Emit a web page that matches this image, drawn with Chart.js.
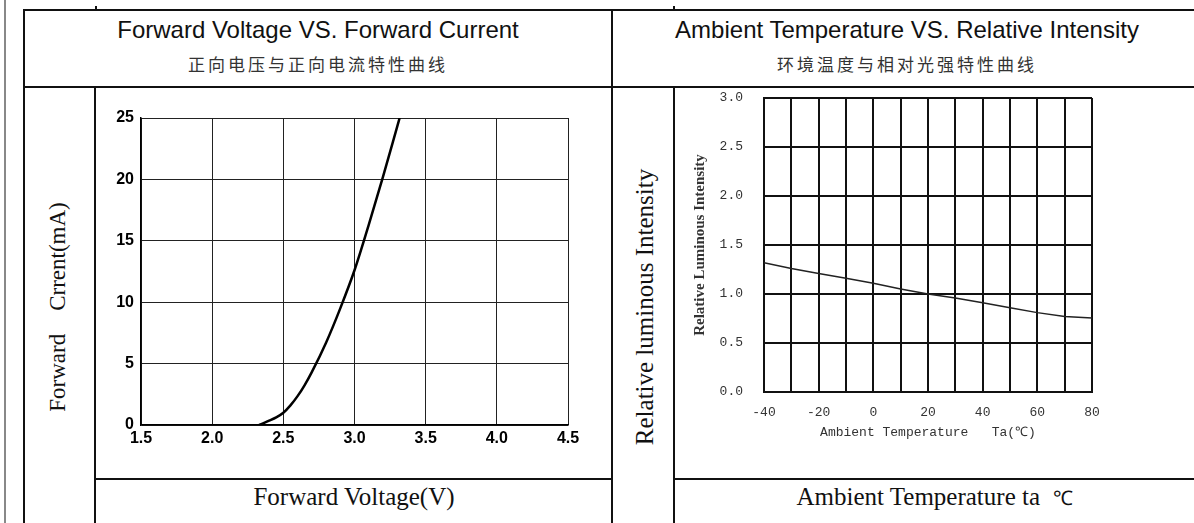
<!DOCTYPE html>
<html>
<head>
<meta charset="utf-8">
<script src="https://cdn.jsdelivr.net/npm/chart.js@4/dist/chart.umd.min.js"></script>
<style>
  body { margin: 0; background: #fff; }
  #page { position: relative; width: 1194px; height: 523px; overflow: hidden; background: #fff; }
  .ln { position: absolute; background: #111; }
  .txt { position: absolute; white-space: pre; text-align: center; color: #111; line-height: 1.15; }
  .title { font-family: "Liberation Sans", Arial, sans-serif; font-size: 24px; }
  .sub { font-family: "Noto Sans CJK SC", sans-serif; font-size: 17px; letter-spacing: 3px; color: #333; }
  .serif { font-family: "Liberation Serif", "Times New Roman", serif; }
  .rot { transform: translate(-50%, -50%) rotate(-90deg); }
  .box { position: absolute; }
</style>
</head>
<body>
<div id="page">
  <!-- table lines -->
  <div class="ln" style="left:4px;top:0;width:2px;height:523px;background:#888"></div>
  <div class="ln" style="left:23px;top:9px;width:2px;height:514px"></div>
  <div class="ln" style="left:23px;top:9px;width:1171px;height:2px"></div>
  <div class="ln" style="left:95px;top:6px;width:2px;height:4px"></div>
  <div class="ln" style="left:673px;top:6px;width:2px;height:4px"></div>
  <div class="ln" style="left:23px;top:86px;width:1171px;height:2px"></div>
  <div class="ln" style="left:611px;top:9px;width:2px;height:514px"></div>
  <div class="ln" style="left:94px;top:86px;width:2px;height:437px"></div>
  <div class="ln" style="left:673px;top:86px;width:2px;height:437px"></div>
  <div class="ln" style="left:94px;top:478px;width:519px;height:2px"></div>
  <div class="ln" style="left:673px;top:478px;width:521px;height:2px"></div>

  <!-- headings -->
  <div class="txt title" style="left:24px;width:588px;top:16px">Forward Voltage VS. Forward Current</div>
  <div class="txt sub" style="left:24px;width:588px;top:54px">正向电压与正向电流特性曲线</div>
  <div class="txt title" style="left:613px;width:588px;top:16px">Ambient Temperature VS. Relative Intensity</div>
  <div class="txt sub" style="left:613px;width:588px;top:54px">环境温度与相对光强特性曲线</div>

  <div class="txt serif rot" style="left:58px;top:307px;font-size:23px">Forward    Crrent(mA)</div>
  <div class="txt serif rot" style="left:645px;top:307px;font-size:25px">Relative luminous Intensity</div>
  <div class="txt serif" style="left:96px;width:516px;top:483px;font-size:25px">Forward Voltage(V)</div>
  <div class="txt serif" style="left:675px;width:519px;top:483px;font-size:25px;height:30px">Ambient Temperature ta  <span style="font-size:20px">℃</span></div>

  <div class="box" style="left:96px;top:88px;width:516px;height:390px"><canvas id="fvChart"></canvas></div>
  <div class="box" style="left:675px;top:88px;width:519px;height:390px"><canvas id="taChart"></canvas></div>
</div>
<script>
// forward voltage (V) vs forward current (mA)
const fvVolts = [2.33, 2.4, 2.45, 2.5, 2.55, 2.6, 2.65, 2.7, 2.8, 2.9, 3.0, 3.1, 3.2, 3.3, 3.317];
const fvCurrent = [0, 0.35, 0.62, 1.0, 1.6, 2.35, 3.25, 4.3, 6.7, 9.5, 12.6, 16.3, 20.2, 24.3, 25];

// ambient temperature (C) vs relative intensity
const taTemps = [-40, -30, -20, -10, 0, 10, 20, 30, 40, 50, 60, 70, 80];
const taIntensity = [1.32, 1.26, 1.21, 1.16, 1.11, 1.05, 1.0, 0.96, 0.91, 0.86, 0.81, 0.77, 0.755];

const boldSans = { family: "'Liberation Sans', Arial, sans-serif", size: 16, weight: "bold" };
const mono = { family: "'Liberation Mono', 'Courier New', monospace", size: 13 };

new Chart(document.getElementById("fvChart").getContext("2d"), {
  type: "line",
  data: {
    datasets: [{
      data: fvVolts.map((v, i) => ({ x: v, y: fvCurrent[i] })),
      borderColor: "#000",
      borderWidth: 2.5,
      pointRadius: 0,
      cubicInterpolationMode: "monotone",
    }],
  },
  options: {
    responsive: true,
    maintainAspectRatio: false,
    animation: false,
    layout: { padding: { top: 30, right: 44, left: 0, bottom: 0 } },
    plugins: { legend: { display: false }, tooltip: { enabled: false } },
    scales: {
      x: {
        type: "linear", min: 1.5, max: 4.5,
        afterFit: (s) => { s.height = 53; },
        ticks: { stepSize: 0.5, padding: 4, color: "#000", font: boldSans, callback: (v) => v.toFixed(1) },
        grid: { color: "#222", lineWidth: 1, drawTicks: false },
        border: { color: "#000", width: 1.5 },
      },
      y: {
        min: 0, max: 25,
        afterFit: (s) => { s.width = 45; },
        ticks: { stepSize: 5, padding: 7, color: "#000", font: boldSans },
        grid: { color: "#222", lineWidth: 1, drawTicks: false },
        border: { color: "#000", width: 1.5 },
      },
    },
  },
});

new Chart(document.getElementById("taChart").getContext("2d"), {
  type: "line",
  data: {
    datasets: [{
      data: taTemps.map((t, i) => ({ x: t, y: taIntensity[i] })),
      borderColor: "#222",
      borderWidth: 1.5,
      pointRadius: 0,
      tension: 0,
    }],
  },
  options: {
    responsive: true,
    maintainAspectRatio: false,
    animation: false,
    layout: { padding: { top: 10, right: 102, left: 0, bottom: 0 } },
    plugins: { legend: { display: false }, tooltip: { enabled: false } },
    scales: {
      x: {
        type: "linear", min: -40, max: 80,
        afterFit: (s) => { s.height = 86; },
        ticks: {
          stepSize: 10, padding: 13, autoSkip: false, maxRotation: 0, color: "#333", font: mono,
          callback: (v) => (v % 20 === 0 ? String(v) : ""),
        },
        grid: { color: "#111", lineWidth: 2, drawTicks: false },
        border: { color: "#111", width: 2 },
        title: {
          display: true, text: "Ambient Temperature   Ta(℃)", color: "#333", font: mono,
          padding: { top: 0, bottom: 38 },
        },
      },
      y: {
        min: 0, max: 3,
        afterFit: (s) => { s.width = 89; },
        ticks: { stepSize: 0.5, padding: 0, color: "#333", font: mono, callback: (v) => v.toFixed(1) },
        grid: { color: "#111", lineWidth: 2, drawTicks: true, tickLength: 21, tickColor: "rgba(0,0,0,0)" },
        border: { color: "#111", width: 2 },
        title: {
          display: true, text: "Relative Luminous Intensity", color: "#333",
          font: { family: "'Liberation Serif', serif", size: 15, weight: "bold" },
          padding: { top: 16, bottom: 0 },
        },
      },
    },
  },
});
</script>
</body>
</html>
